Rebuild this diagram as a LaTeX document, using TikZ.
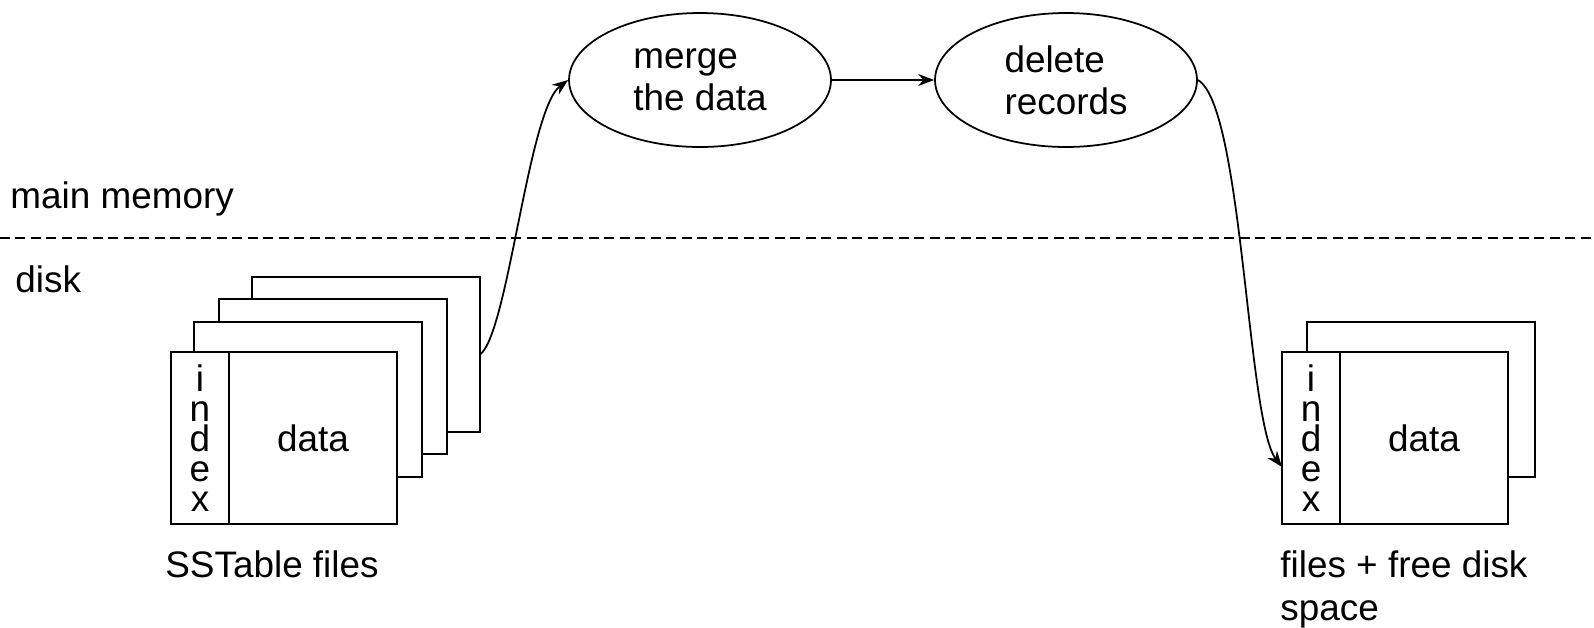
\documentclass[tikz,border=0pt]{standalone}
\usepackage{fontspec}
\setmainfont{Liberation Sans}
\usepackage{tikz}
\usetikzlibrary{positioning, shapes.geometric, arrows.meta}
\tikzstyle{stage} = [ellipse, draw=black, line width=1pt, minimum width=5.24cm, minimum height=2.68cm, align=left, inner sep=0pt]
\tikzstyle{file} = [rectangle, draw=black, fill=white, line width=1pt, minimum width=4.56cm, minimum height=3.1cm, anchor=north west, inner sep=0pt, outer sep=0pt]
\tikzstyle{index} = [rectangle, draw=black, fill=white, line width=1pt, minimum width=1.16cm, minimum height=3.44cm, anchor=north west, inner sep=0pt, outer sep=0pt, align=center, font=\fontsize{21}{17}\selectfont]
\tikzstyle{content} = [rectangle, draw=black, fill=white, line width=1pt, minimum width=3.36cm, minimum height=3.44cm, inner sep=0pt, outer sep=0pt]
\tikzstyle{caption} = [anchor=base west, inner sep=0pt, align=left]
\tikzstyle{boundary} = [line width=0.8pt, dash pattern=on 0.2cm off 0.11cm]
\tikzstyle{arrow} = [line width=1pt, -{Stealth[length=0.32cm, width=0.24cm]}]

\begin{document}
\begin{tikzpicture}[x=0.02cm, y=-0.02cm, every node/.style={font=\fontsize{21}{24}\selectfont}]
			\useasboundingbox (0,0) rectangle (1594,627);
			% Nodes
			\node (mem_label) [caption] at (10,208) {main memory};
			\node (disk_label) [caption] at (15,292) {disk};
			\coordinate (mem_left) at (0,238);
			\coordinate (mem_right) at (1594,238);
			
			\node (merge) [stage] at (700,80) {merge\\the data};
			\node (delete) [stage] at (1066,80) {delete\\records};
			
			\node (old_file4) [file] at (252,277) {};
			\node (old_file3) [file] at (219,299) {};
			\node (old_file2) [file] at (194,322) {};
			\node (old_index) [index] at (171,352) {i\\n\\d\\e\\x};
			\node (old_data) [content, right=0pt of old_index] {data};
			\node (old_label) [caption] at (165,577) {SSTable files};
			
			\node (new_file2) [file] at (1307,322) {};
			\node (new_index) [index] at (1282,352) {i\\n\\d\\e\\x};
			\node (new_data) [content, right=0pt of new_index] {data};
			\node (new_label) [caption] at (1280,620) {files + free disk\\space};
			
			% Arrows
			\draw [boundary] (mem_left) -- (mem_right);
			\draw [arrow] (old_file4.east) .. controls +(28,-20) and +(-40,30) .. (merge.west);
			\draw [arrow] (merge) -- (delete);
			\draw [arrow] (delete.east) .. controls +(45,25) and +(-35,-45) .. ([yshift=-0.58cm]new_index.west);
		\end{tikzpicture}
\end{document}
